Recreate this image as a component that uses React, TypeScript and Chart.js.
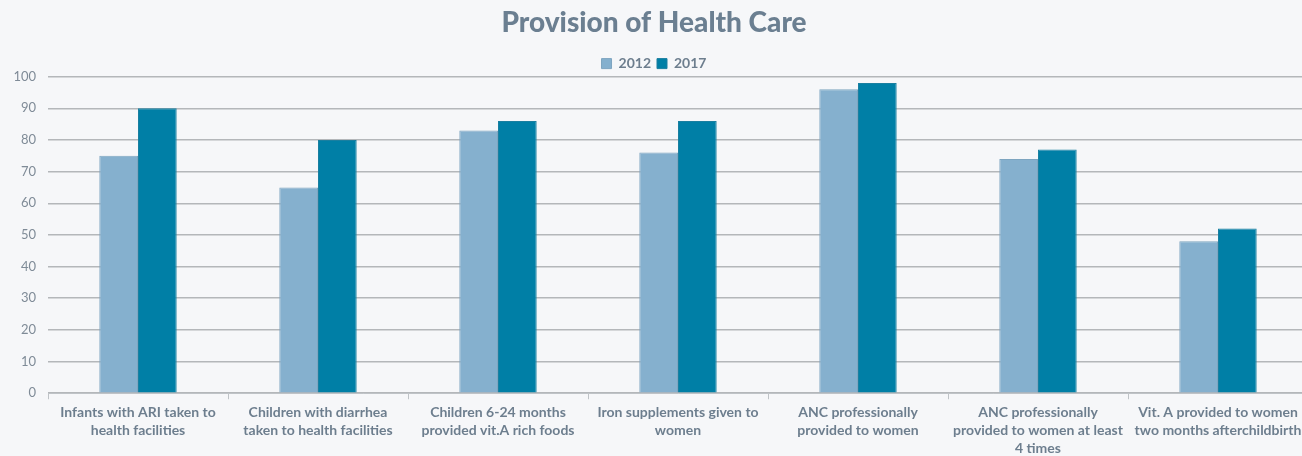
import React, { useEffect, useRef } from "react";
import { Chart, registerables } from "chart.js";

Chart.register(...registerables);

const categories: (string | string[])[] = [
  ["Infants with ARI taken to", "health facilities"],
  ["Children with diarrhea", "taken to health facilities"],
  ["Children 6-24 months", "provided vit.A rich foods"],
  ["Iron supplements given to", "women"],
  ["ANC professionally", "provided to women"],
  ["ANC professionally", "provided to women at least", "4 times"],
  ["Vit. A provided to women", "two months afterchildbirth"],
];

const values2012 = [75, 65, 83, 76, 96, 74, 48];
const values2017 = [90, 80, 86, 86, 98, 77, 52];

const BG = "#F6F7F9";
const FONT = "Lato, 'Open Sans', sans-serif";

// Trims the bottom of the legend box so the plot sits closer to it.
const legendTrim = {
  id: "legendTrim",
  beforeLayout(chart: any) {
    const lg: any = chart.legend;
    if (lg && !lg._trimmed) {
      const orig = lg.fit.bind(lg);
      lg.fit = function () {
        orig();
        this.height = Math.max(0, this.height - 4);
      };
      lg._trimmed = true;
    }
  },
};

export default function App() {
  const ref = useRef<HTMLCanvasElement | null>(null);

  useEffect(() => {
    document.body.style.margin = "0";
    document.body.style.overflow = "hidden";
    document.body.style.background = BG;
    if (!ref.current) return;
    const chart = new Chart(ref.current, {
      type: "bar",
      plugins: [legendTrim],
      data: {
        labels: categories,
        datasets: [
          {
            label: "2012",
            data: values2012,
            backgroundColor: "#85B0CE",
            borderColor: "#7EA5C0",
            borderWidth: 1,
          },
          {
            label: "2017",
            data: values2017,
            backgroundColor: "#007FA6",
            borderColor: "#1A7FA0",
            borderWidth: 1,
          },
        ],
      },
      options: {
        responsive: false,
        animation: false,
        maintainAspectRatio: false,
        layout: { padding: { left: 0, right: 14, top: 4, bottom: 0 } },
        datasets: {
          bar: { categoryPercentage: 0.43, barPercentage: 1 },
        },
        plugins: {
          title: {
            display: true,
            text: "Provision of Health Care",
            color: "#6B7F91",
            font: { family: FONT, size: 28, weight: "900" },
            padding: { top: 2, bottom: 11 },
          },
          legend: {
            display: true,
            labels: {
              color: "#6D7E8E",
              boxWidth: 10,
              boxHeight: 10,
              padding: 6,
              font: { family: FONT, size: 14, weight: "bold" },
            },
          },
          tooltip: { enabled: false },
        },
        scales: {
          x: {
            offset: true,
            afterFit: (scale: any) => {
              scale.height = scale.height - 5;
            },
            grid: {
              display: true,
              drawOnChartArea: false,
              drawTicks: true,
              tickLength: 6,
              color: "#BFC3C7",
            },
            border: { display: true, color: "#BFC3C7", width: 1 },
            ticks: {
              color: "#6D7E8E",
              maxRotation: 0,
              minRotation: 0,
              autoSkip: false,
              padding: 4,
              font: { family: FONT, size: 14, weight: "bold", lineHeight: 1.28 },
            },
          },
          y: {
            min: 0,
            max: 100,
            afterFit: (scale: any) => {
              scale.width = 48;
            },
            grid: {
              color: "#B4B7BA",
              lineWidth: 1.5,
              drawTicks: false,
            },
            border: { display: false },
            ticks: {
              stepSize: 10,
              color: "#7F8B97",
              padding: 12,
              font: { family: FONT, size: 13, lineHeight: 0.7 },
            },
          },
        },
      },
    });
    return () => chart.destroy();
  }, []);

  return (
    <div style={{ width: 1322, height: 456, background: BG }}>
      <canvas ref={ref} width={1322} height={456} style={{ display: "block" }} />
    </div>
  );
}
